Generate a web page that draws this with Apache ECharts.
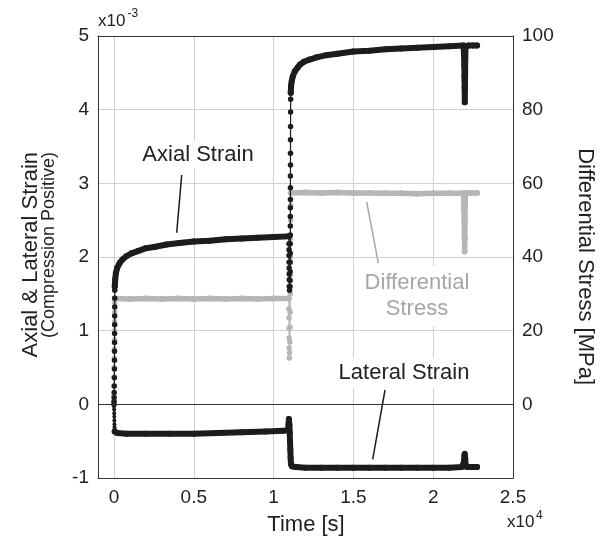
<!DOCTYPE html>
<html>
<head>
<meta charset="utf-8">
<script src="https://cdn.jsdelivr.net/npm/echarts@6/dist/echarts.min.js"></script>
<style>
html,body{margin:0;padding:0;background:#fff;}
#chart{width:601px;height:540px;}
</style>
</head>
<body>
<div id="chart"></div>
<script>
// ---- data (time in s, strain in 1e-3, stress in MPa) ----
const xTicks = [0, 5000, 10000, 15000, 20000, 25000];

const axialRamp1 = [[0,0],[5,0.04],[10,0.09],[15,0.16],[20,0.25],[25,0.36],[30,0.48],[33,0.6],[36,0.72],[39,0.84],[42,0.96],[44,1.08],[46,1.2],[48,1.32],[49,1.44],[50,1.55]];
const axialCreep1 = [[50,1.6],[80,1.7],[120,1.78],[200,1.85],[360,1.92],[550,1.97],[775,2.01],[1100,2.05],[1500,2.08],[2000,2.12],[2600,2.14],[3300,2.17],[4100,2.19],[5000,2.21],[6000,2.22],[7000,2.24],[8000,2.25],[9000,2.26],[10000,2.27],[10950,2.28]];
const axialReload = [[10960,2.28],[10965,2.18],[10968,2.1],[10971,2.02],[10974,1.93],[10977,1.85],[10980,1.77],[10983,1.69],[10986,1.6],[11000,1.55],[11030,1.6],[11035,1.68],[11040,1.8],[11040,1.93],[11045,2.05],[11045,2.18],[11050,2.3],[11050,2.42],[11050,2.55],[11050,2.67],[11055,2.78],[11055,2.94],[11055,3.1],[11060,3.25],[11060,3.41],[11060,3.59],[11065,3.77],[11065,3.97],[11070,4.14],[11075,4.23]];
const axialCreep2 = [[11075,4.23],[11100,4.33],[11140,4.39],[11200,4.45],[11330,4.52],[11500,4.57],[11640,4.61],[11900,4.65],[12260,4.68],[12700,4.71],[13300,4.74],[14000,4.76],[15000,4.79],[16000,4.8],[17000,4.82],[18000,4.83],[19000,4.84],[20000,4.85],[21000,4.86],[21900,4.87],[21930,4.75],[21950,4.6],[21960,4.45],[21970,4.3],[21980,4.1],[21990,4.3],[22000,4.5],[22010,4.7],[22030,4.86],[22200,4.87],[22500,4.87],[22750,4.87]];

const lateralRamp1 = [[0,0],[5,-0.03],[10,-0.07],[15,-0.12],[20,-0.17],[25,-0.22],[30,-0.27],[35,-0.31],[40,-0.34],[50,-0.37]];
const lateralCreep1 = [[50,-0.37],[200,-0.39],[800,-0.4],[2000,-0.4],[3500,-0.4],[5000,-0.4],[6500,-0.39],[8000,-0.38],[9500,-0.37],[10600,-0.36],[10900,-0.35],[10940,-0.27],[10960,-0.2],[10990,-0.28],[11010,-0.38],[11030,-0.5],[11050,-0.62],[11070,-0.73],[11090,-0.81],[11150,-0.84],[11400,-0.85]];
const lateralCreep2 = [[11400,-0.85],[12000,-0.86],[13000,-0.86],[14000,-0.86],[15000,-0.86],[16000,-0.86],[17000,-0.86],[18000,-0.86],[19000,-0.86],[20000,-0.86],[21000,-0.86],[21800,-0.85],[21930,-0.78],[21960,-0.69],[21980,-0.67],[22000,-0.72],[22030,-0.82],[22100,-0.85],[22400,-0.85],[22750,-0.85]];

const stressRamp1 = [[0,0],[5,2.5],[10,5],[15,7.5],[20,10],[25,12.5],[30,15],[33,17.5],[36,20],[39,22.5],[42,25],[46,27.5],[50,28.7]];
const stressHold1 = [[50,28.7],[1000,28.6],[2000,28.7],[3000,28.6],[4000,28.7],[5000,28.6],[6000,28.7],[7000,28.6],[8000,28.7],[9000,28.6],[10000,28.7],[10950,28.7]];
const stressReload = [[10955,28.7],[10960,25.9],[10965,23.5],[10970,20.7],[10975,18],[10980,15.3],[10985,12.6],[11000,14],[11020,17],[11030,21],[11040,25],[11045,30],[11050,35],[11055,40],[11060,45],[11065,50],[11070,54],[11075,57.4]];
const stressHold2 = [[11075,57.4],[12000,57.5],[13000,57.4],[14000,57.5],[15000,57.4],[16000,57.4],[17000,57.3],[18000,57.3],[19000,57.2],[20000,57.3],[21000,57.3],[21900,57.3],[21930,53],[21950,49],[21960,45],[21970,41.5],[21980,45],[21990,50],[22000,54],[22020,57.3],[22300,57.4],[22750,57.4]];

const labelAxial = 'Axial Strain';
const labelLateral = 'Lateral Strain';
const labelStress = 'Differential\nStress';
const xTitle = 'Time [s]';
const yLeftTitle = 'Axial & Lateral Strain';
const yLeftSub = '(Compression Positive)';
const yRightTitle = 'Differential Stress [MPa]';

// ---- styling ----
const FONT = '"Liberation Sans", Arial, Helvetica, sans-serif';
const BLACK = '#1c1c1c';
const GRAY = '#b6b6b6';
const GRAYTXT = '#a6a6a6';
const GRID = '#d0d0d0';

function mk(data, color, yIdx, width, size, z) {
  return {
    type: 'line', data: data, yAxisIndex: yIdx, symbol: 'circle', symbolSize: size,
    showSymbol: true, showAllSymbol: true, silent: true, z: z,
    lineStyle: { color: color, width: width, cap: 'round', join: 'round' },
    itemStyle: { color: color, borderWidth: 0 }
  };
}

const series = [
  mk(stressRamp1, GRAY, 1, 1.2, 5.5, 2),
  mk(stressHold1, GRAY, 1, 5.5, 6, 2),
  mk(stressReload, GRAY, 1, 1.2, 5.5, 2),
  mk(stressHold2, GRAY, 1, 5.5, 6, 2),
  mk(axialRamp1, BLACK, 0, 1.2, 5.5, 3),
  mk(axialCreep1, BLACK, 0, 6, 6, 3),
  mk(axialReload, BLACK, 0, 1.2, 5.5, 3),
  mk(axialCreep2, BLACK, 0, 6, 6, 3),
  mk(lateralRamp1, BLACK, 0, 2, 4, 3),
  mk(lateralCreep1, BLACK, 0, 6, 6, 3),
  mk(lateralCreep2, BLACK, 0, 6, 6, 3)
];
series[4].markLine = {
  silent: true, symbol: 'none', label: { show: false },
  lineStyle: { color: '#333', width: 1, type: 'solid' },
  data: [{ yAxis: 0 }]
};

const chart = echarts.init(document.getElementById('chart'), null, { renderer: 'canvas' });
chart.setOption({
  animation: false,
  backgroundColor: '#fff',
  grid: { left: 98, right: 88, top: 36, bottom: 62, show: false },
  xAxis: [
    {
      type: 'value', min: -1000, max: 25000, position: 'bottom',
      axisLine: { show: true, onZero: false, lineStyle: { color: '#333', width: 1 } },
      axisTick: { show: false, customValues: xTicks },
      axisLabel: { customValues: xTicks, formatter: v => String(v / 10000), fontSize: 19, color: '#222', margin: 10, fontFamily: FONT },
      splitLine: { show: true, lineStyle: { color: GRID, width: 1, type: 'solid' } }
    },
    {
      type: 'value', min: -1000, max: 25000, position: 'top',
      axisLine: { show: true, onZero: false, lineStyle: { color: '#333', width: 1 } },
      axisTick: { show: false }, axisLabel: { show: false }, splitLine: { show: false }
    }
  ],
  yAxis: [
    {
      type: 'value', min: -1, max: 5, interval: 1, position: 'left',
      axisLine: { show: true, onZero: false, lineStyle: { color: '#333', width: 1 } },
      axisTick: { show: false },
      axisLabel: { fontSize: 19, color: '#222', margin: 9, fontFamily: FONT },
      splitLine: { show: true, lineStyle: { color: GRID, width: 1, type: 'solid' } }
    },
    {
      type: 'value', min: -20, max: 100, interval: 20, position: 'right',
      axisLine: { show: true, onZero: false, lineStyle: { color: '#333', width: 1 } },
      axisTick: { show: false },
      axisLabel: { fontSize: 19, color: '#222', margin: 9, fontFamily: FONT, formatter: v => (v === -20 ? '' : String(v)) },
      splitLine: { show: false }
    }
  ],
  graphic: [
    { type: 'text', z: 100, style: { text: 'x10', x: 98, y: 21, font: '17px ' + FONT, fill: '#222', verticalAlign: 'middle' } },
    { type: 'text', z: 100, style: { text: '-3', x: 127.5, y: 14, font: '12px ' + FONT, fill: '#222', verticalAlign: 'middle' } },
    { type: 'text', z: 100, style: { text: 'x10', x: 507, y: 522, font: '17px ' + FONT, fill: '#222', verticalAlign: 'middle' } },
    { type: 'text', z: 100, style: { text: '4', x: 536, y: 516, font: '12px ' + FONT, fill: '#222', verticalAlign: 'middle' } },
    { type: 'text', z: 100, style: { text: xTitle, x: 306, y: 525, font: '22px ' + FONT, fill: '#222', align: 'center', verticalAlign: 'middle' } },
    { type: 'text', z: 100, x: 31, y: 152, rotation: Math.PI / 2, style: { text: yLeftTitle, x: 0, y: 0, font: '22px ' + FONT, fill: '#222', align: 'right', verticalAlign: 'middle' } },
    { type: 'text', z: 100, x: 49, y: 152, rotation: Math.PI / 2, style: { text: yLeftSub, x: 0, y: 0, font: '18px ' + FONT, fill: '#222', align: 'right', verticalAlign: 'middle' } },
    { type: 'text', z: 100, x: 585, y: 385, rotation: -Math.PI / 2, style: { text: yRightTitle, x: 0, y: 0, font: '22px ' + FONT, fill: '#222', align: 'right', verticalAlign: 'middle' } },
    { type: 'line', z: 100, shape: { x1: 181.7, y1: 175, x2: 176.7, y2: 232.7 }, style: { stroke: BLACK, lineWidth: 1.5 } },
    { type: 'line', z: 100, shape: { x1: 366.7, y1: 202, x2: 378.3, y2: 263 }, style: { stroke: '#a8a8a8', lineWidth: 1.5 } },
    { type: 'line', z: 100, shape: { x1: 385, y1: 390, x2: 372.7, y2: 459.3 }, style: { stroke: BLACK, lineWidth: 1.5 } },
    { type: 'text', z: 100, style: { text: labelAxial, x: 198, y: 155, font: '22px ' + FONT, fill: '#222', align: 'center', verticalAlign: 'middle', backgroundColor: '#fff', padding: [3, 3] } },
    { type: 'text', z: 100, style: { text: labelStress, x: 417, y: 296, font: '22px ' + FONT, lineHeight: 26.5, fill: GRAYTXT, align: 'center', verticalAlign: 'middle', backgroundColor: '#fff', padding: [4, 3] } },
    { type: 'text', z: 100, style: { text: labelLateral, x: 404, y: 372.5, font: '22px ' + FONT, fill: '#222', align: 'center', verticalAlign: 'middle', backgroundColor: '#fff', padding: [4, 3] } }
  ],
  series: series
});
</script>
</body>
</html>
